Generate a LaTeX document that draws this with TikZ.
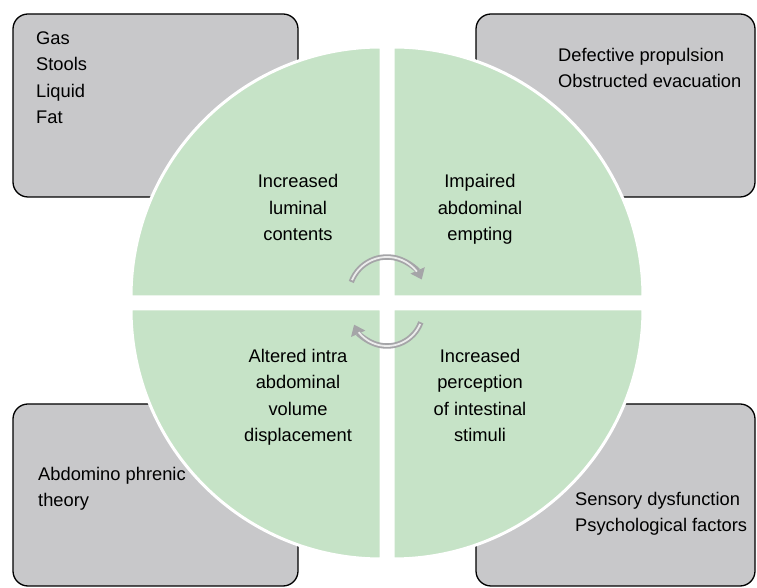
\documentclass[tikz,border=0pt]{standalone}
\usepackage{fontspec}
\setmainfont{Liberation Sans}
\usetikzlibrary{arrows.meta}
\definecolor{boxgray}{RGB}{200,200,202}
\definecolor{sectgreen}{RGB}{198,227,199}
\definecolor{arrowgray}{RGB}{165,165,168}
\tikzset{
  x=1pt,y=1pt,
  infobox/.style={draw=black,line width=1.3pt,fill=boxgray,rounded corners=15pt},
  sector/.style={fill=sectgreen,draw=white,line width=3pt,line join=round},
  txt/.style={font=\fontsize{18.3}{26.6}\selectfont,inner sep=0pt},
  ltxt/.style={txt,align=left,anchor=base west},
  ctxt/.style={txt,align=center,anchor=base},
  cyc/.style={draw=arrowgray,line width=5.5pt,-{Triangle[length=10pt,width=15pt]}},
  cycin/.style={draw=white!85!gray,line width=1.8pt},
}
\begin{document}
\begin{tikzpicture}
\useasboundingbox (0,0) rectangle (757,588);
% boxes
\draw[infobox] (13,391) rectangle (298,574);
\draw[infobox] (476,391) rectangle (755,574);
\draw[infobox] (13,2) rectangle (298,184);
\draw[infobox] (476,2) rectangle (755,184);
% sectors
\path[sector] (381,291) -- (131,291) arc[start angle=180,end angle=90,radius=250pt] -- cycle;
\path[sector] (393,291) -- (393,541) arc[start angle=90,end angle=0,radius=250pt] -- cycle;
\path[sector] (381,279) -- (131,279) arc[start angle=180,end angle=270,radius=250pt] -- cycle;
\path[sector] (393,279) -- (643,279) arc[start angle=0,end angle=-90,radius=250pt] -- cycle;
% cycle arrows
\draw[cyc] ([shift={(160:38pt)}]387,293) arc[start angle=160,end angle=24,radius=38pt];
\draw[cycin] ([shift={(157:38pt)}]387,293) arc[start angle=157,end angle=38,radius=38pt];
\draw[cyc] ([shift={(-20:36pt)}]387,278) arc[start angle=-20,end angle=-156,radius=36pt];
\draw[cycin] ([shift={(-23:36pt)}]387,278) arc[start angle=-23,end angle=-142,radius=36pt];
% box texts (anchor = baseline of last line)
\node[ltxt] (tltext) at (36,464) {Gas\\Stools\\Liquid\\Fat};
\node[ltxt] (trtext) at (558,500) {Defective propulsion\\Obstructed evacuation};
\node[ltxt] (bltext) at (38,81) {Abdomino phrenic\\theory};
\node[ltxt] (brtext) at (575,56) {Sensory dysfunction\\Psychological factors};
% sector texts
\node[ctxt] (q1) at (298,347) {Increased\\luminal\\contents};
\node[ctxt] (q2) at (480,347) {Impaired\\abdominal\\empting};
\node[ctxt] (q3) at (298,146) {Altered intra\\abdominal\\volume\\displacement};
\node[ctxt] (q4) at (480,146) {Increased\\perception\\of intestinal\\stimuli};
\end{tikzpicture}
\end{document}
